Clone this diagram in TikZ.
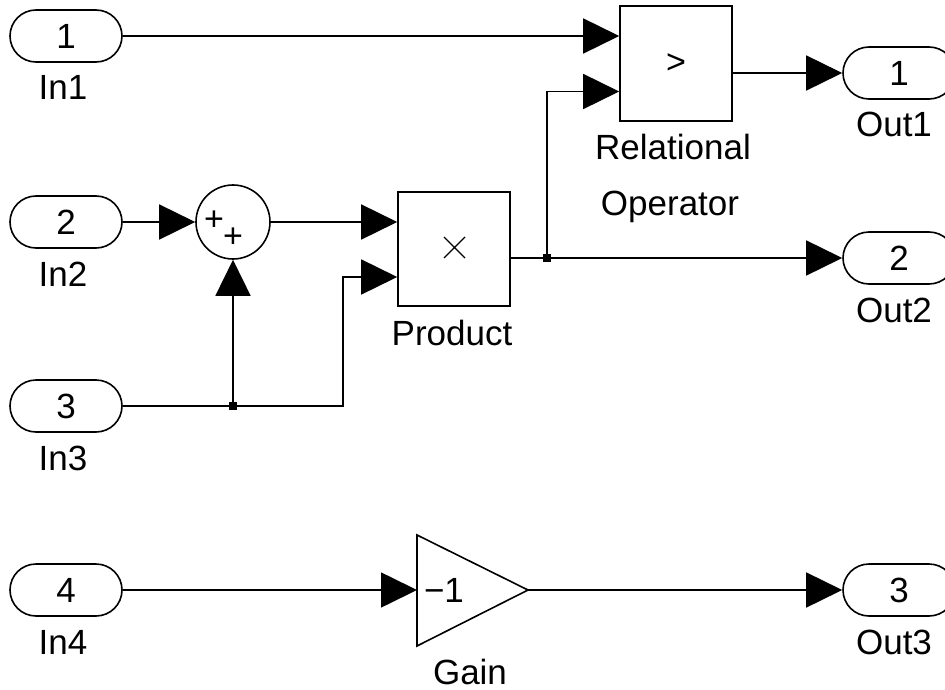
\documentclass[tikz,border=0pt]{standalone}
\usepackage{fontspec}
\setmainfont{Liberation Sans}
\usetikzlibrary{positioning, arrows.meta, calc, shapes.misc}
\tikzset{
  port/.style={
    draw, line width=1.6pt, rounded rectangle,
    minimum width=112pt, minimum height=52pt, inner sep=0pt
  },
  blockbox/.style={
    draw, line width=1.6pt,
    minimum width=112pt, minimum height=115pt, inner sep=0pt
  },
  sumnode/.style={draw, line width=1.6pt, circle, minimum size=74pt, inner sep=0pt},
  signal/.style={-{Triangle[length=36pt,width=35pt]}, line width=1.6pt},
  wire/.style={line width=1.6pt},
  tap/.style={fill, minimum size=8pt, inner sep=0pt},
  caption/.style={anchor=base, inner sep=0pt},
  sign/.style={font=\fontsize{34}{36}\selectfont, inner sep=0pt},
}

\begin{document}
\begin{tikzpicture}[x=1pt, y=-1pt, font=\fontsize{35}{42}\selectfont]
  \clip (0,0) rectangle (945,690);

  \node[port] (in1) at (66,36) {1};
  \node[port] (in2) at (66,222) {2};
  \node[port] (in3) at (66,406) {3};
  \node[port] (in4) at (66,590) {4};
  \node[caption] (in1lab) at (63,100) {In1};
  \node[caption] (in2lab) at (63,286) {In2};
  \node[caption] (in3lab) at (63,470) {In3};
  \node[caption] (in4lab) at (63,654) {In4};

  \node[port] (out1) at (899,73) {1};
  \node[port] (out2) at (899,258) {2};
  \node[port] (out3) at (899,590) {3};
  \node[caption] (out1lab) at (894,137) {Out1};
  \node[caption] (out2lab) at (894,322) {Out2};
  \node[caption] (out3lab) at (894,654) {Out3};

  \node[sumnode] (sum) at (233,222) {};
  \node[sign] (plus1) at (214,221) {+};
  \node[sign] (plus2) at (233,238) {+};

  \node[blockbox, minimum height=114pt] (prod) at (454,249) {};
  \draw[line width=1.2pt] ($(prod)+(-10,-12)$) -- ($(prod)+(11,9)$)
                          ($(prod)+(-10,9)$) -- ($(prod)+(11,-12)$);
  \node[caption] (prodlab) at (452,345) {Product};

  \node[blockbox, font=\fontsize{34}{36}\selectfont] (relop) at (676,63.5) {>};
  \node[caption] (reloplab1) at (673,160) {Relational};
  \node[caption] (reloplab2) at (670,215) {Operator};

  \draw[wire] (417,535) -- (528,590) -- (417,646) -- cycle;
  \coordinate (gainin) at (417,590);
  \coordinate (gainout) at (528,590);
  \node[inner sep=0pt] (gaink) at (444,590) {−1};
  \node[caption] (gainlab) at (470,684) {Gain};

  \coordinate (prodin2) at ($(prod.west)+(0,28)$);
  \coordinate (prodout) at ($(prod.east)+(0,9)$);
  \coordinate (relopin2) at ($(relop.west)+(0,28)$);
  \coordinate (bend1) at (343,406);
  \node[tap] (tap1) at (233,406) {};
  \node[tap] (tap2) at (547,258) {};

  \draw[signal] (in1.east) -- (in1.east -| relop.west);
  \draw[signal] (relop.east |- out1) -- (out1.west);
  \draw[signal] (in2.east) -- (sum.west);
  \draw[signal] (sum.east) -- (sum.east -| prod.west);
  \draw[wire] (in3.east) -- (tap1);
  \draw[signal] (tap1) -- (sum.south);
  \draw[signal] (tap1) -- (bend1) |- (prodin2);
  \draw[wire] (prodout) -- (tap2);
  \draw[signal] (tap2) -- (tap2 -| out2.west);
  \draw[signal] (tap2) |- (relopin2);
  \draw[signal] (in4.east) -- (gainin);
  \draw[signal] (gainout) -- (out3.west);
\end{tikzpicture}
\end{document}
